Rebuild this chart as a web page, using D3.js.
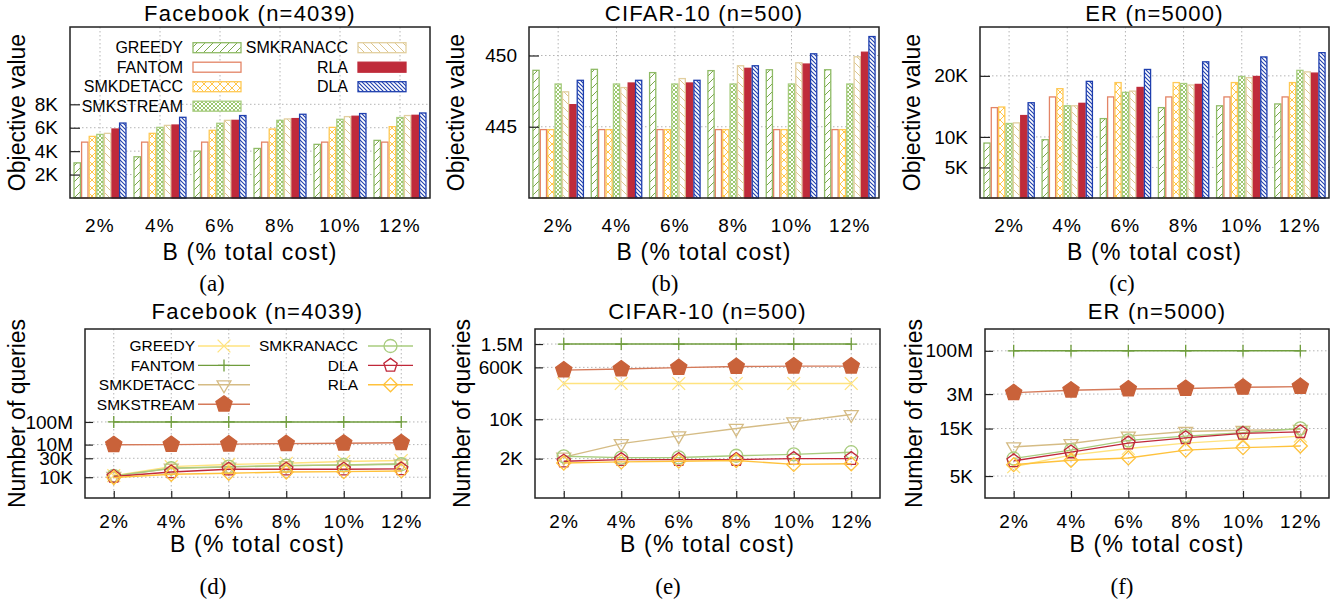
<!DOCTYPE html>
<html>
<head>
<meta charset="utf-8">
<script src="https://cdn.jsdelivr.net/npm/d3@7"></script>
<style>
  body { margin: 0; background: #fff; }
  svg text { font-family: "Liberation Sans", Arial, Helvetica, sans-serif; fill: #000; }
  .cap { font-family: "Liberation Serif", "Times New Roman", serif; }
</style>
</head>
<body>
<svg id="chart" width="1343" height="601"></svg>
<script>
// ---------------- data ----------------
var budgets = ["2%", "4%", "6%", "8%", "10%", "12%"];
var barMethods = ["GREEDY", "FANTOM", "SMKDETACC", "SMKSTREAM", "SMKRANACC", "RLA", "DLA"];
var lineMethods = ["GREEDY", "FANTOM", "SMKDETACC", "SMKSTREAM", "SMKRANACC", "DLA", "RLA"];

// objective value, rows follow barMethods
var fbObjective = [
  [3000, 3520, 4000, 4230, 4580, 4920],
  [4770, 4770, 4770, 4770, 4770, 4770],
  [5260, 5520, 5780, 5890, 6030, 6090],
  [5430, 6030, 6380, 6630, 6720, 6870],
  [5520, 6200, 6630, 6750, 6950, 7040],
  [5890, 6230, 6630, 6780, 6980, 7060],
  [6400, 6890, 7040, 7150, 7210, 7260]
];
var cifarObjective = [
  [448.96, 449.03, 448.8, 448.94, 449.0, 449.0],
  [444.8, 444.8, 444.8, 444.8, 444.8, 444.8],
  [444.8, 444.8, 444.8, 444.8, 444.8, 444.8],
  [448.0, 448.0, 448.0, 448.0, 448.0, 448.0],
  [447.45, 447.75, 448.38, 449.28, 449.49, 449.91],
  [446.55, 448.07, 448.07, 449.1, 449.4, 450.23],
  [448.26, 448.26, 448.26, 449.28, 450.12, 451.33]
];
var erObjective = [
  [9000, 9550, 13000, 14800, 15100, 15400],
  [14800, 16550, 16550, 16550, 16550, 16550],
  [14900, 17900, 18900, 18900, 18900, 18900],
  [12200, 15100, 17300, 18750, 19900, 20900],
  [12300, 15100, 17500, 18500, 19700, 20650],
  [13500, 15500, 18100, 18600, 19900, 20450],
  [15600, 19100, 21050, 22300, 23100, 23800]
];

var fbObjTicks = [2000, 4000, 6000, 8000];
var fbObjTickLabels = ["2K", "4K", "6K", "8K"];
var cifarObjTicks = [445, 450];
var cifarObjTickLabels = ["445", "450"];
var erObjTicks = [5000, 10000, 20000];
var erObjTickLabels = ["5K", "10K", "20K"];

// number of queries, rows follow lineMethods
var fbQueries = [
  [11000, 18500, 21000, 22500, 24800, 26400],
  [1e8, 1e8, 1e8, 1e8, 1e8, 1e8],
  [10500, 16800, 18000, 19600, 20300, 21800],
  [9.5e6, 1.0e7, 1.05e7, 1.1e7, 1.15e7, 1.2e7],
  [10800, 16800, 18500, 19600, 20300, 21200],
  [10400, 13500, 15900, 15900, 15900, 16200],
  [9800, 11900, 12600, 13500, 13800, 14400]
];
var cifarQueries = [
  [168000, 168000, 168000, 168000, 168000, 168000],
  [1.5e6, 1.5e6, 1.5e6, 1.5e6, 1.5e6, 1.5e6],
  [2130, 3700, 5070, 6870, 9000, 14500],
  [484000, 525000, 590000, 620000, 630000, 630000],
  [2200, 2080, 2100, 2250, 2380, 2600],
  [1800, 1920, 1920, 1920, 2000, 2000],
  [1670, 1750, 1800, 1850, 1580, 1620]
];
var erQueries = [
  [6200, 8100, 9450, 10700, 11600, 12600],
  [1e8, 1e8, 1e8, 1e8, 1e8, 1e8],
  [9800, 10600, 12600, 14000, 14400, 14700],
  [3.33e6, 4.1e6, 4.5e6, 4.7e6, 5.2e6, 5.5e6],
  [7500, 9100, 11400, 12600, 13600, 15500],
  [7100, 8700, 10700, 12100, 13400, 13900],
  [6500, 7200, 7600, 9100, 9650, 10000]
];

var fbQueryTicks = [1e4, 3e4, 1e7, 1e8];
var fbQueryTickLabels = ["10K", "30K", "10M", "100M"];
var cifarQueryTicks = [2e3, 1e4, 6e5, 1.5e6];
var cifarQueryTickLabels = ["2K", "10K", "600K", "1.5M"];
var erQueryTicks = [5e3, 1.5e4, 3e6, 1e8];
var erQueryTickLabels = ["5K", "15K", "3M", "100M"];

// ---------------- layout / style ----------------
var svg = d3.select("#chart");
var defs = svg.append("defs");

function hatch(id, size, color, d, width) {
  var p = defs.append("pattern").attr("id", id)
    .attr("patternUnits", "userSpaceOnUse")
    .attr("width", size).attr("height", size);
  p.append("rect").attr("width", size).attr("height", size).attr("fill", "#fff");
  p.append("path").attr("d", d).attr("stroke", color)
    .attr("stroke-width", width).attr("fill", "none");
}
hatch("pGreedy", 8, "#7aa84c", "M0,8L8,0M-2,2L2,-2M6,10L10,6", 1);
hatch("pDet", 8, "#ffc64a", "M0,8L8,0M-2,2L2,-2M6,10L10,6M0,0L8,8M-2,6L2,10M6,-2L10,2", 1);
hatch("pStream", 4, "#9cc870", "M0,4L4,0M-1,1L1,-1M3,5L5,3M0,0L4,4M-1,3L1,5M3,-1L5,1", 1);
hatch("pRan", 8, "#dcc58e", "M0,0L8,8M-2,6L2,10M6,-2L10,2", 1);
hatch("pDla", 4, "#1f3fae", "M0,0L4,4M-1,3L1,5M3,-1L5,1", 1.1);

var barStyle = {
  GREEDY:    { fill: "url(#pGreedy)", stroke: "#8fbb66" },
  FANTOM:    { fill: "#fff",          stroke: "#e38466" },
  SMKDETACC: { fill: "url(#pDet)",    stroke: "#ffc955" },
  SMKSTREAM: { fill: "url(#pStream)", stroke: "#a8cd80" },
  SMKRANACC: { fill: "url(#pRan)",    stroke: "#e2cf9f" },
  RLA:       { fill: "#bf2b3a",       stroke: "#bf2b3a" },
  DLA:       { fill: "url(#pDla)",    stroke: "#1f3fae" }
};

// custom marker shapes; size is r*r
var symPlus = { draw: function(p, s) { var r = Math.sqrt(s);
  p.moveTo(-r, 0); p.lineTo(r, 0); p.moveTo(0, -r); p.lineTo(0, r); } };
var symTimes = { draw: function(p, s) { var r = Math.sqrt(s) * 0.8;
  p.moveTo(-r, -r); p.lineTo(r, r); p.moveTo(-r, r); p.lineTo(r, -r); } };
var symTriDown = { draw: function(p, s) { var r = Math.sqrt(s);
  p.moveTo(-r * 0.87, -r * 0.5); p.lineTo(r * 0.87, -r * 0.5); p.lineTo(0, r); p.closePath(); } };
var symPentagon = { draw: function(p, s) { var r = Math.sqrt(s);
  for (var i = 0; i < 5; i++) {
    var a = -Math.PI / 2 + i * 2 * Math.PI / 5;
    if (i === 0) p.moveTo(r * Math.cos(a), r * Math.sin(a)); else p.lineTo(r * Math.cos(a), r * Math.sin(a));
  }
  p.closePath(); } };
var symDiamond = { draw: function(p, s) { var r = Math.sqrt(s);
  p.moveTo(0, -r); p.lineTo(r, 0); p.lineTo(0, r); p.lineTo(-r, 0); p.closePath(); } };
var symCircle = { draw: function(p, s) { var r = Math.sqrt(s);
  p.moveTo(r, 0); p.arc(0, 0, r, 0, 2 * Math.PI); } };

var lineStyle = {
  GREEDY:    { color: "#ffe37f", mark: "#ffe37f", sym: symTimes,    r: 8,   fill: "none" },
  FANTOM:    { color: "#6f9d3c", mark: "#6f9d3c", sym: symPlus,     r: 6,   fill: "none" },
  SMKDETACC: { color: "#d5bc85", mark: "#d5bc85", sym: symTriDown,  r: 8,   fill: "none" },
  SMKSTREAM: { color: "#d57a5a", mark: "#c9623a", sym: symPentagon, r: 8.5, fill: "#c9623a" },
  SMKRANACC: { color: "#a8cc7e", mark: "#a8cc7e", sym: symCircle,   r: 6.5, fill: "none" },
  DLA:       { color: "#c0283a", mark: "#c0283a", sym: symPentagon, r: 7,   fill: "none" },
  RLA:       { color: "#ffc23c", mark: "#ffc23c", sym: symDiamond,  r: 7,   fill: "none" }
};

var topRow = { top: 27, bottom: 198, titleY: 21, tickPad: 21, xlabY: 260, capY: 291 };
var botRow = { top: 329, bottom: 498, titleY: 319, tickPad: 17, xlabY: 552, capY: 594 };

var topPanels = [
  { title: "Facebook (n=4039)", left: 70, right: 430, values: fbObjective, domain: [0, 14600],
    ticks: fbObjTicks, labels: fbObjTickLabels, ylabX: 17, caption: "(a)", capX: 212, legend: true },
  { title: "CIFAR-10 (n=500)", left: 529, right: 879, values: cifarObjective, domain: [440, 452],
    ticks: cifarObjTicks, labels: cifarObjTickLabels, ylabX: 456, caption: "(b)", capX: 665 },
  { title: "ER (n=5000)", left: 980, right: 1329, values: erObjective, domain: [0, 28000],
    ticks: erObjTicks, labels: erObjTickLabels, ylabX: 912, caption: "(c)", capX: 1122 }
];
var bottomPanels = [
  { title: "Facebook (n=4039)", left: 85, right: 430, values: fbQueries,
    ticks: fbQueryTicks, labels: fbQueryTickLabels, tickFrac: [0.877, 0.765, 0.684, 0.55],
    ylabX: 17, caption: "(d)", capX: 213, legend: true },
  { title: "CIFAR-10 (n=500)", left: 535, right: 880, values: cifarQueries,
    ticks: cifarQueryTicks, labels: cifarQueryTickLabels, tickFrac: [0.767, 0.534, 0.227, 0.089],
    ylabX: 462, caption: "(e)", capX: 668 },
  { title: "ER (n=5000)", left: 985, right: 1329, values: erQueries,
    ticks: erQueryTicks, labels: erQueryTickLabels, tickFrac: [0.870, 0.589, 0.385, 0.129],
    ylabX: 914, caption: "(f)", capX: 1122 }
];

// log scale with a different stretch between each labelled tick (broken axis)
function brokenLogScale(ticks, fracs, top, bottom) {
  var h = bottom - top, n = ticks.length;
  var L = ticks.map(Math.log10);
  var Y = fracs.map(function(f) { return top + f * h; });
  var lowSlope = (Y[0] - Y[1]) / (L[1] - L[0]);
  var highSlope = (Y[n - 2] - Y[n - 1]) / (L[n - 1] - L[n - 2]);
  var lo = Math.pow(10, L[0] - (bottom - Y[0]) / lowSlope);
  var hi = Math.pow(10, L[n - 1] + (Y[n - 1] - top) / highSlope);
  return d3.scaleLog().domain([lo].concat(ticks, [hi])).range([bottom].concat(Y, [top]));
}

function gridLine(sel) {
  sel.attr("stroke", "#b5b5b5").attr("stroke-width", 1).attr("stroke-dasharray", "1.5,2.5");
}

function texts(g, p, row) {
  var cx = (p.left + p.right) / 2;
  g.append("text").attr("x", cx).attr("y", row.titleY).attr("text-anchor", "middle")
    .style("font-size", "22px").style("letter-spacing", "1.2px").text(p.title);
  g.append("text").attr("x", cx).attr("y", row.xlabY).attr("text-anchor", "middle")
    .style("font-size", "23px").style("letter-spacing", "1.2px").text("B (% total cost)");
  g.append("text").attr("class", "cap").attr("x", p.capX).attr("y", row.capY)
    .attr("text-anchor", "middle").style("font-size", "23px").text(p.caption);
  g.append("text")
    .attr("transform", "translate(" + p.ylabX + "," + (row.top + row.bottom) / 2 + ") rotate(-90)")
    .attr("text-anchor", "middle").attr("dy", "0.35em").style("font-size", "23px")
    .text(row === topRow ? "Objective value" : "Number of queries");
}

function styleAxis(ax, size, spacing) {
  ax.select(".domain").remove();
  ax.selectAll(".tick line").attr("stroke", "#222").attr("stroke-width", 1.2);
  ax.selectAll("text").style("font-size", size).style("letter-spacing", spacing);
}

// ---------------- top row: bar charts ----------------
topPanels.forEach(function(p) {
  var g = svg.append("g");
  var y = d3.scaleLinear().domain(p.domain).range([topRow.bottom, topRow.top]);
  var x = d3.scaleBand().domain(budgets).range([p.left, p.right]);
  var inner = d3.scaleBand().domain(barMethods).range([0, x.bandwidth()]).paddingOuter(0.45);

  g.selectAll(".hgrid").data(p.ticks).join("line")
    .attr("x1", p.left).attr("x2", p.right).attr("y1", y).attr("y2", y).call(gridLine);
  g.selectAll(".vgrid").data(budgets).join("line")
    .attr("x1", function(d) { return x(d) + x.bandwidth() / 2; })
    .attr("x2", function(d) { return x(d) + x.bandwidth() / 2; })
    .attr("y1", topRow.top).attr("y2", topRow.bottom).call(gridLine);

  barMethods.forEach(function(m, mi) {
    g.append("g").selectAll("rect").data(p.values[mi]).join("rect")
      .attr("x", function(v, i) { return x(budgets[i]) + inner(m) + 0.6; })
      .attr("width", inner.bandwidth() - 1.2)
      .attr("y", function(v) { return y(v); })
      .attr("height", function(v) { return topRow.bottom - y(v); })
      .attr("fill", barStyle[m].fill).attr("stroke", barStyle[m].stroke).attr("stroke-width", 1.3);
  });

  g.append("rect").attr("x", p.left).attr("y", topRow.top)
    .attr("width", p.right - p.left).attr("height", topRow.bottom - topRow.top)
    .attr("fill", "none").attr("stroke", "#222").attr("stroke-width", 1.5);

  g.append("g").attr("transform", "translate(" + p.left + ",0)")
    .call(d3.axisLeft(y).tickValues(p.ticks).tickFormat(function(d, i) { return p.labels[i]; })
      .tickSize(-10).tickPadding(12))
    .call(styleAxis, "19px", "0px");
  g.append("g").attr("transform", "translate(0," + topRow.bottom + ")")
    .call(d3.axisBottom(x).tickSize(0).tickPadding(topRow.tickPad))
    .call(styleAxis, "19px", "1.2px");

  texts(g, p, topRow);

  if (p.legend) {
    var lg = g.append("g");
    barMethods.forEach(function(m, i) {
      var col = i < 4 ? 0 : 1, row = i < 4 ? i : i - 4;
      var cy = topRow.top + 20.7 + row * 19.5;
      var tx = p.left + (col ? 278 : 113), sx = p.left + (col ? 288 : 123);
      lg.append("text").attr("x", tx).attr("y", cy).attr("dy", "0.35em")
        .attr("text-anchor", "end").style("font-size", "16px").text(m);
      lg.append("rect").attr("x", sx).attr("y", cy - 5).attr("width", 48).attr("height", 10)
        .attr("fill", barStyle[m].fill).attr("stroke", barStyle[m].stroke).attr("stroke-width", 1.3);
    });
  }
});

// ---------------- bottom row: query counts ----------------
bottomPanels.forEach(function(p) {
  var g = svg.append("g");
  var y = brokenLogScale(p.ticks, p.tickFrac, botRow.top, botRow.bottom);
  var x = d3.scalePoint().domain(budgets).range([p.left, p.right]).padding(0.5);

  g.selectAll(".hgrid").data(p.ticks).join("line")
    .attr("x1", p.left).attr("x2", p.right).attr("y1", y).attr("y2", y).call(gridLine);
  g.selectAll(".vgrid").data(budgets).join("line")
    .attr("x1", x).attr("x2", x).attr("y1", botRow.top).attr("y2", botRow.bottom).call(gridLine);

  var line = d3.line().x(function(v, i) { return x(budgets[i]); }).y(function(v) { return y(v); });

  lineMethods.forEach(function(m, mi) {
    var st = lineStyle[m];
    var s = g.append("g");
    s.append("path").attr("d", line(p.values[mi])).attr("fill", "none")
      .attr("stroke", st.color).attr("stroke-width", 1.4);
    s.selectAll("path.mk").data(p.values[mi]).join("path").attr("class", "mk")
      .attr("transform", function(v, i) { return "translate(" + x(budgets[i]) + "," + y(v) + ")"; })
      .attr("d", d3.symbol().type(st.sym).size(st.r * st.r))
      .attr("fill", st.fill).attr("stroke", st.mark).attr("stroke-width", 1.3);
  });

  g.append("rect").attr("x", p.left).attr("y", botRow.top)
    .attr("width", p.right - p.left).attr("height", botRow.bottom - botRow.top)
    .attr("fill", "none").attr("stroke", "#222").attr("stroke-width", 1.5);

  g.append("g").attr("transform", "translate(" + p.left + ",0)")
    .call(d3.axisLeft(y).tickValues(p.ticks).tickFormat(function(d, i) { return p.labels[i]; })
      .tickSize(-8).tickPadding(12))
    .call(styleAxis, "19px", "0px");
  g.append("g").attr("transform", "translate(0," + botRow.bottom + ")")
    .call(d3.axisBottom(x).tickSize(-7).tickPadding(botRow.tickPad))
    .call(styleAxis, "19px", "1.2px");

  texts(g, p, botRow);

  if (p.legend) {
    var lg = g.append("g");
    lineMethods.forEach(function(m, i) {
      var st = lineStyle[m];
      var col = i < 4 ? 0 : 1, row = i < 4 ? i : i - 4;
      var cy = botRow.top + 17 + row * 19.4;
      var tx = p.left + (col ? 273 : 110);
      var x1 = p.left + (col ? 283 : 113), x2 = p.left + (col ? 328 : 165);
      lg.append("text").attr("x", tx).attr("y", cy).attr("dy", "0.35em")
        .attr("text-anchor", "end").style("font-size", "15.5px").text(m);
      lg.append("line").attr("x1", x1).attr("x2", x2).attr("y1", cy).attr("y2", cy)
        .attr("stroke", st.color).attr("stroke-width", 1.4);
      lg.append("path").attr("transform", "translate(" + (x1 + x2) / 2 + "," + cy + ")")
        .attr("d", d3.symbol().type(st.sym).size(st.r * st.r))
        .attr("fill", st.fill).attr("stroke", st.mark).attr("stroke-width", 1.3);
    });
  }
});
</script>
</body>
</html>
